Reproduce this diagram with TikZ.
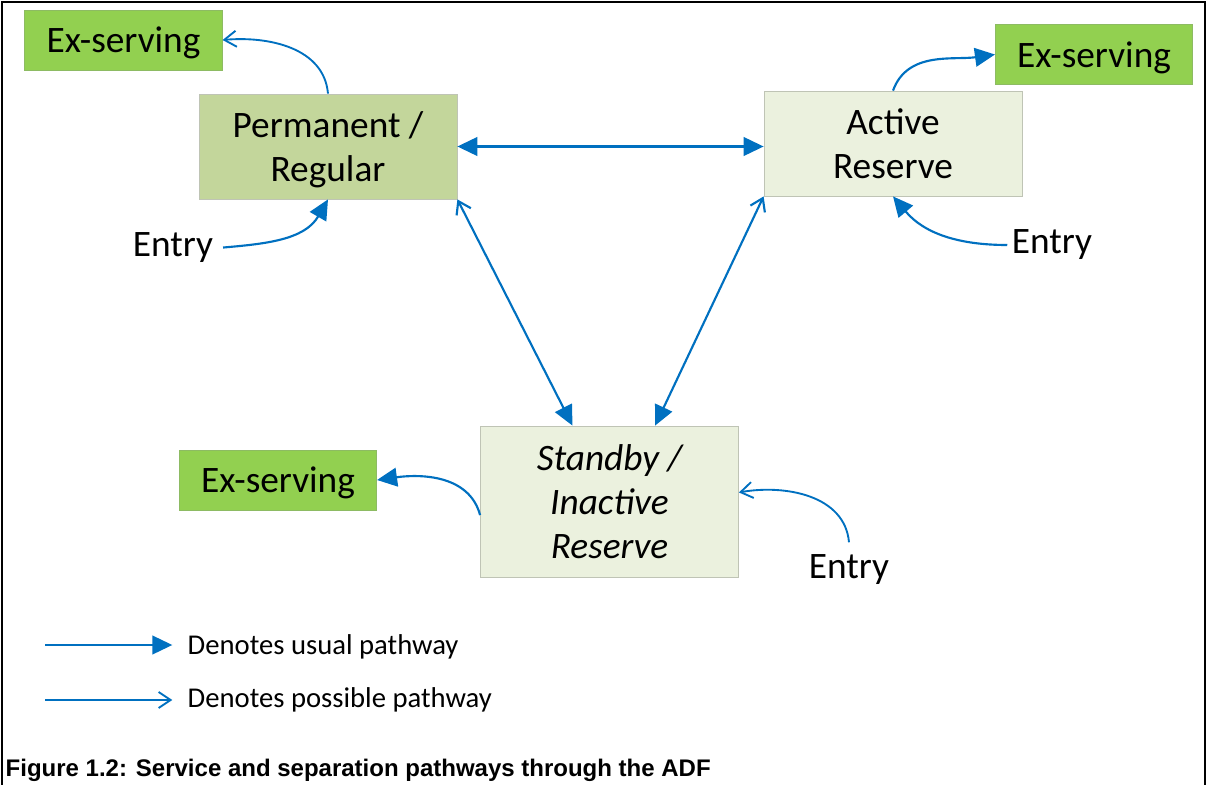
\documentclass[tikz,border=0pt]{standalone}
\usepackage{fontspec}
\setmainfont{Carlito}
\newfontfamily\capfont{Liberation Sans}
\usetikzlibrary{arrows.meta}
\definecolor{pathblue}{HTML}{0070C0}
\definecolor{exgreen}{HTML}{92D050}
\definecolor{exline}{HTML}{8DBB63}
\definecolor{permfill}{HTML}{C3D69B}
\definecolor{reservefill}{HTML}{EBF1DE}
\definecolor{boxline}{HTML}{BFC4B5}

\begin{document}
\begin{tikzpicture}[x=0.75pt,y=-0.75pt,
  box/.style={draw=boxline,line width=0.6pt,minimum width=193.5pt,minimum height=78.75pt,text depth=0pt,align=center,font=\fontsize{28}{33}\selectfont},
  exbox/.style={draw=exline,line width=0.6pt,fill=exgreen,minimum width=148pt,minimum height=45pt,text depth=0pt,font=\fontsize{28}{33}\selectfont},
  entry/.style={font=\fontsize{28}{33}\selectfont},
  legend/.style={anchor=west,font=\fontsize{21.5}{25}\selectfont},
  usual/.style={draw=pathblue,line width=1.6pt,-{Triangle[length=15pt,width=14pt]}},
  possible/.style={draw=pathblue,line width=1.4pt,-{Straight Barb[length=9pt,width=12pt]}},
  twoway/.style={draw=pathblue,line width=1.6pt,{Triangle[length=15pt,width=14pt]}-{Triangle[length=15pt,width=14pt]}},
  mixed/.style={draw=pathblue,line width=1.6pt,{Straight Barb[length=9pt,width=12pt]}-{Triangle[length=15pt,width=14pt]}}]
\useasboundingbox (0,0) rectangle (1207,785);
\draw[line width=1.5pt] (2,785) -- (2,2) -- (1205,2) -- (1205,785);

\node[box,fill=permfill] (perm) at (328,146.5) {Permanent /\\Regular};
\node[box,fill=reservefill] (active) at (893,143.5) {Active\\Reserve};
\node[box,fill=reservefill,minimum height=113.25pt,font=\fontsize{28}{33}\selectfont\itshape] (standby) at (609.5,501.5) {Standby /\\Inactive\\Reserve};
\node[exbox] (exTL) at (123.5,40) {Ex-serving};
\node[exbox] (exTR) at (1094,54.5) {Ex-serving};
\node[exbox] (exBL) at (278,480) {Ex-serving};
\node[entry] (entryL) at (173,248) {Entry};
\node[entry] (entryR) at (1052,245) {Entry};
\node[entry] (entryB) at (849,570) {Entry};

\draw[twoway] (perm.east) -- (perm.east -| active.west);
\draw[mixed] (perm.south east) -- (standby.116);
\draw[mixed] (active.south west) -- (standby.59);

\draw[possible] (perm.north) to[out=95,in=5] (exTL.east);
\draw[usual,shorten <=4pt] (entryL.east) to[out=5,in=-120] (perm.south);
\draw[usual] (active.north) to[out=70,in=188] (exTR.west);
\draw[usual] (entryR.west) to[out=180,in=-50] (active.south);
\draw[usual] (standby.186) to[out=105,in=8] (exBL.east);
\draw[possible] ([yshift=6pt]entryB.north) to[out=95,in=10] (standby.4);

\coordinate (lgusual) at (45,645);
\coordinate (lgpossible) at (45,700);
\node[legend] (lgtextA) at (183,647) {Denotes usual pathway};
\node[legend] (lgtextB) at (183,700) {Denotes possible pathway};
\draw[usual,shorten >=8pt] (lgusual) -- (lgusual -| lgtextA.west);
\draw[possible,shorten >=8pt] (lgpossible) -- (lgpossible -| lgtextB.west);

\node[anchor=west,font=\capfont\bfseries\fontsize{18}{21}\selectfont] (caption) at (1,770) {Figure 1.2: Service and separation pathways through the ADF};
\end{tikzpicture}
\end{document}
